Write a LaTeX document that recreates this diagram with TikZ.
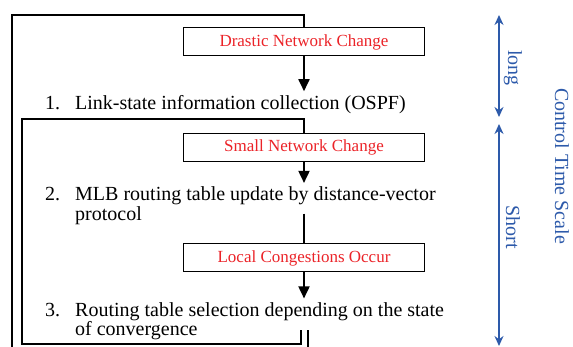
\documentclass[tikz,border=0pt]{standalone}
\usepackage{fontspec}
\setmainfont{Liberation Serif}
\usetikzlibrary{arrows.meta}
\definecolor{eventred}{RGB}{235,35,40}
\definecolor{scaleblue}{RGB}{45,90,170}

\begin{document}
\begin{tikzpicture}[x=1pt,y=-1pt,
        event/.style={draw,line width=1pt,minimum width=241pt,minimum height=28pt,inner sep=0pt,text=eventred,font=\fontsize{17}{18}\selectfont},
        stepline/.style={anchor=base west,inner xsep=0pt,inner ysep=4pt,font=\fontsize{20}{20}\selectfont},
        flow/.style={line width=1.8pt,-{Triangle[length=12pt,width=11pt]}},
        feedback/.style={line width=1.8pt},
        scalearrow/.style={draw=scaleblue,line width=1.5pt,{Stealth[length=10pt,width=9pt]}-{Stealth[length=10pt,width=9pt]}},
        scaletext/.style={text=scaleblue,rotate=-90,font=\fontsize{20}{20}\selectfont}]
        \useasboundingbox (0,0) rectangle (573,347);
        % triggering events
        \node[event] (drastic) at (304,42) {Drastic Network Change};
        \node[event] (small) at (304,147.5) {Small Network Change};
        \node[event] (local) at (304,258) {Local Congestions Occur};
        % control steps
        \node[stepline] (step1) at (45,109.5) {\makebox[30pt][l]{1.}Link-state information collection (OSPF)};
        \node[stepline] (step2) at (45,201) {\makebox[30pt][l]{2.}MLB routing table update by distance-vector};
        \node[stepline] (step2b) at (75,221) {protocol};
        \node[stepline] (step3) at (45,316.5) {\makebox[30pt][l]{3.}Routing table selection depending on the state};
        \node[stepline] (step3b) at (75,336) {of convergence};
        \coordinate (step2out) at ([yshift=-4pt]step2.south);
        \coordinate (step3out) at ([yshift=-5pt]step3.south);
        % arrows into the steps
        \draw[flow] (drastic.south) -- (drastic.south |- step1.north);
        \draw[flow] (small.south) -- (small.south |- step2.north);
        \draw[flow] (local.south) -- (local.south |- step3.north);
        \draw[feedback] (step2out -| local.north) -- (local.north);
        % feedback loops
        \draw[feedback] (step3out -| 301,0) -- (301,344) -| (22,119) -| (small.north);
        \draw[feedback] (step3out -| 308,0) -- (308,352) -| (12,15) -| (drastic.north);
        % time scale
        \coordinate (longtop) at (499,15);
        \coordinate (longbot) at (499,117);
        \coordinate (shorttop) at (499,124);
        \coordinate (shortbot) at (499,346);
        \draw[scalearrow] (longtop) -- (longbot);
        \draw[scalearrow] (shorttop) -- (shortbot);
        \node[scaletext] (longlbl) at (513,68) {long};
        \node[scaletext] (shortlbl) at (513,227) {Short};
        \node[scaletext] (scalelbl) at (562,166) {Control Time Scale};
\end{tikzpicture}
\end{document}
